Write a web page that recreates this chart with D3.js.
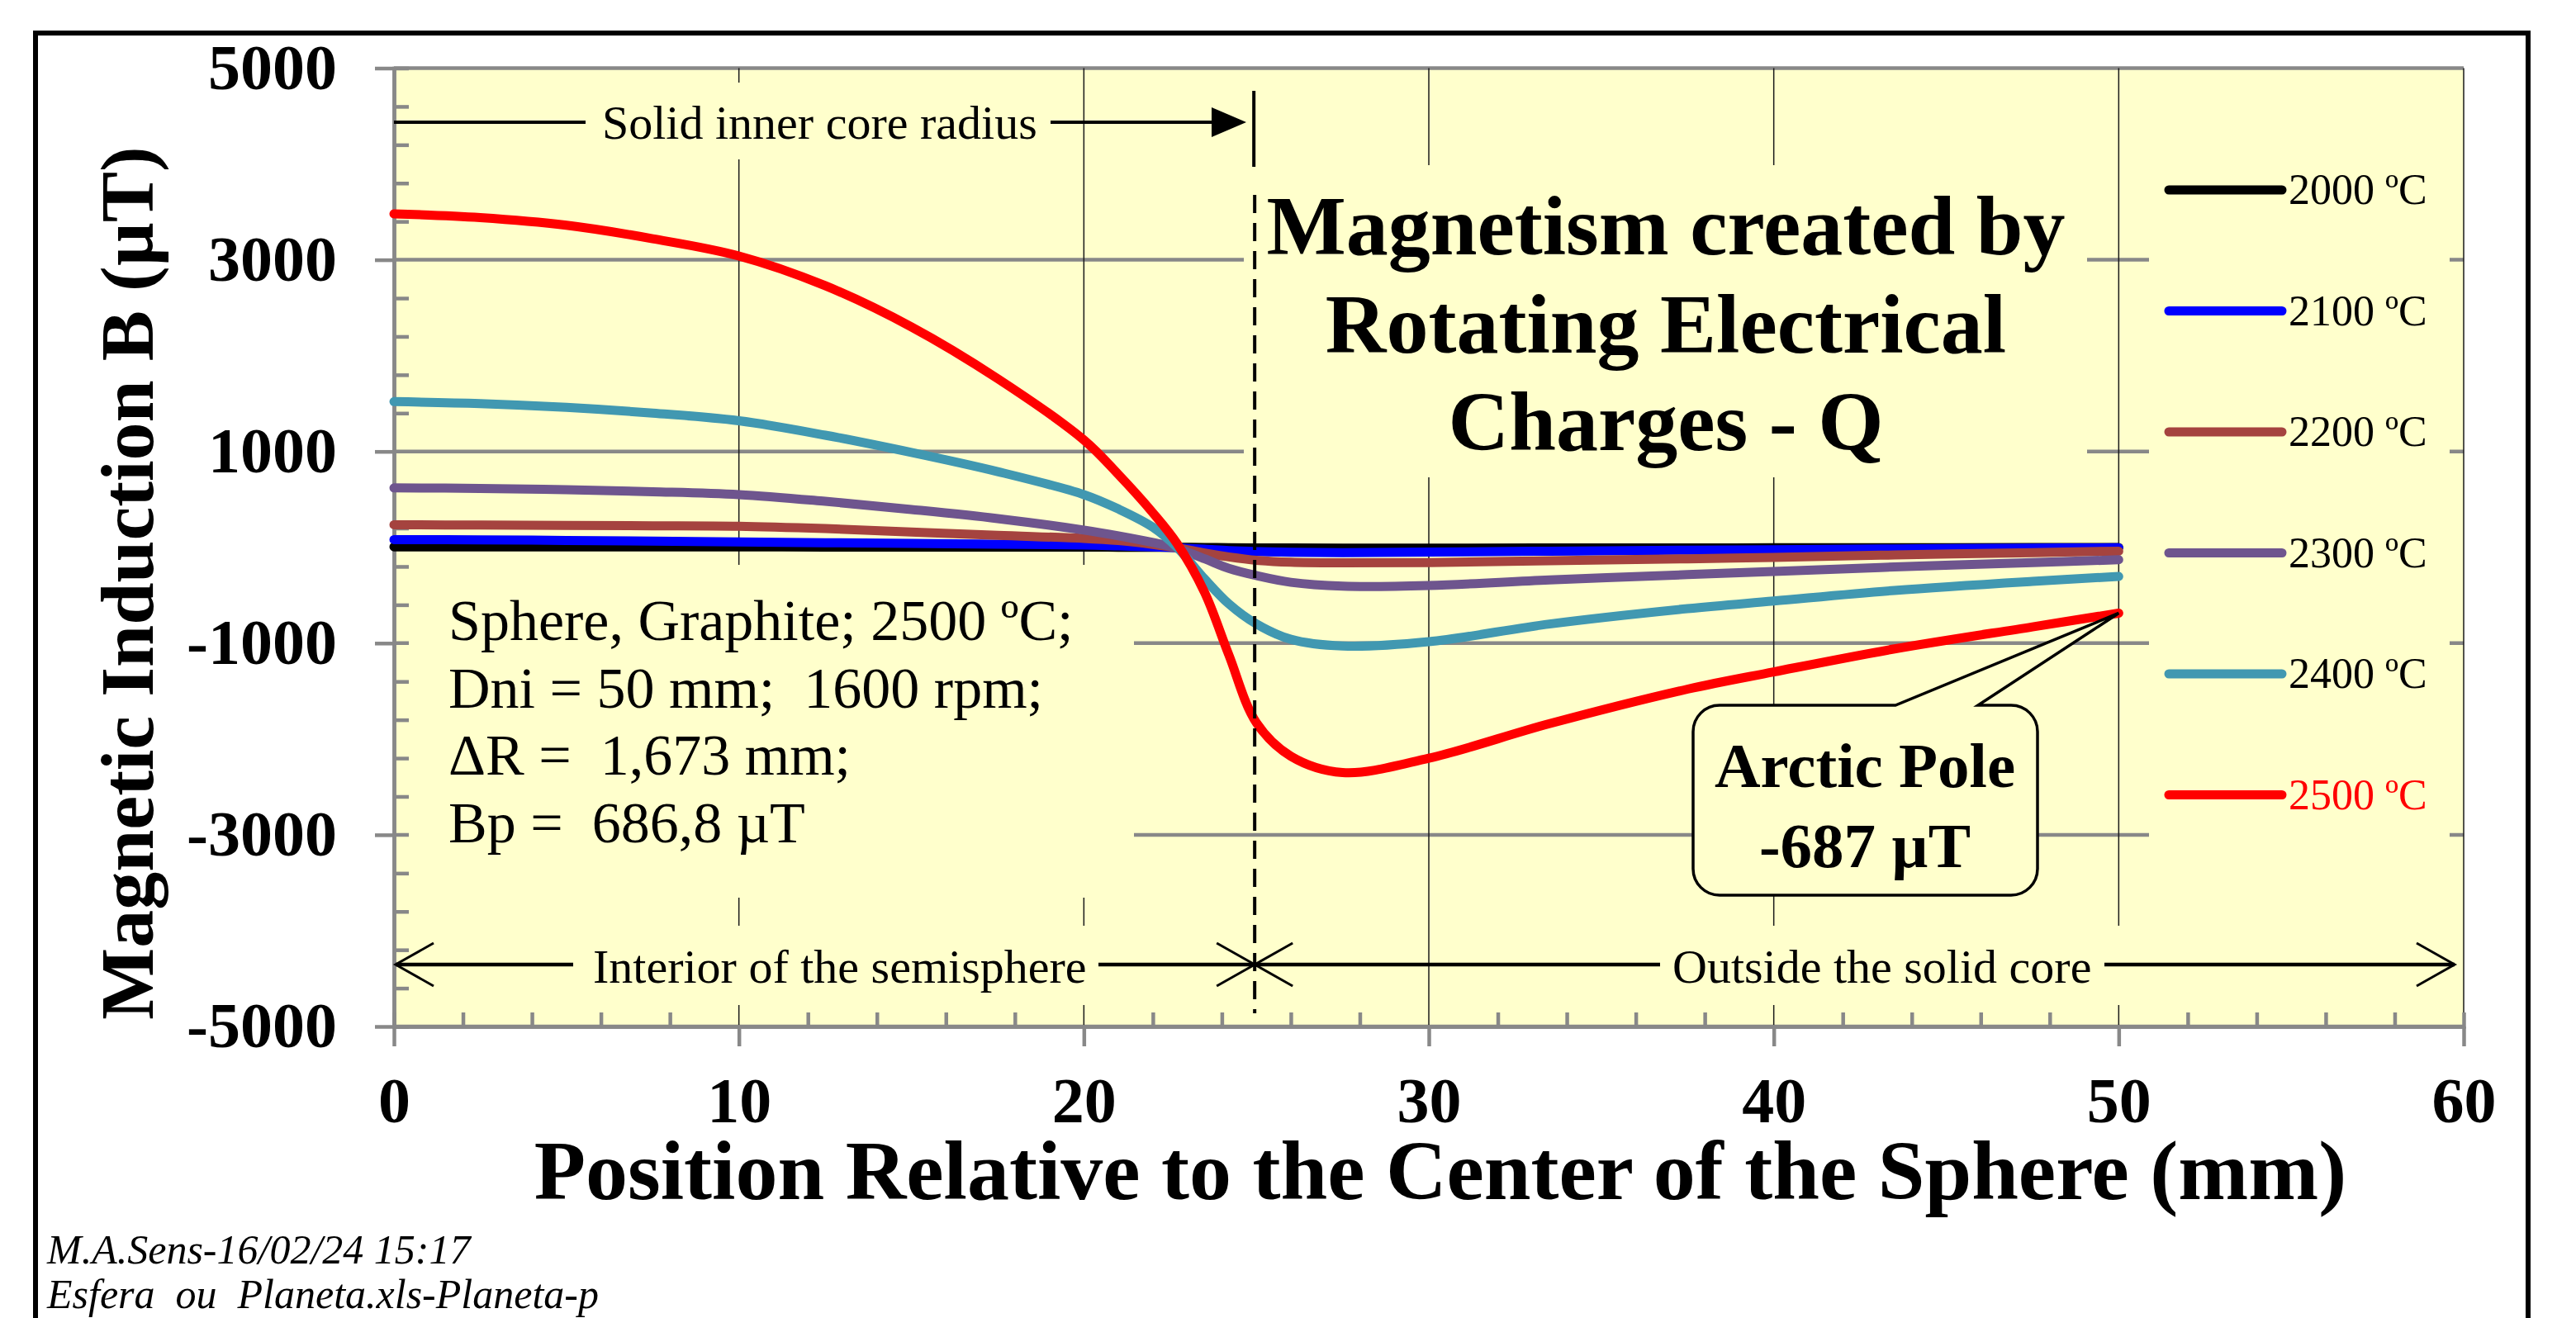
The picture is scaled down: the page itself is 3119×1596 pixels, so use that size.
<!DOCTYPE html>
<html lang="en">
<head>
  <meta charset="UTF-8">
  <title>Magnetism created by Rotating Electrical Charges</title>
  <script src="https://d3js.org/d3.v7.min.js"></script>
  <style>
    body { margin: 0; background: #fff; }
    text { font-family: "Times New Roman", "Liberation Serif", serif; }
  </style>
</head>
<body>
<script>
  // positions along the radius (mm)
  const xs = [0, 2.5, 5, 7.5, 10, 12.5, 15, 17.5, 20, 21, 22, 22.7, 23.5, 24.2, 25, 26, 27.5, 30, 33.5, 37.5, 40, 43.5, 47.5, 50];

  // magnetic induction B (uT) for each temperature
  const b2000 = [5, 5, 5, 4, 4, 3, 3, 2, 2, 1, 1, 0, -2, -4, -6, -7, -8, -8, -7, -6, -5, -4, -3, -2];
  const b2100 = [80, 78, 72, 65, 55, 48, 40, 32, 24, 15, 5, -5, -20, -35, -45, -52, -55, -50, -40, -30, -25, -17, -8, -5];
  const b2200 = [235, 232, 228, 225, 220, 195, 160, 125, 93, 70, 30, -5, -60, -100, -135, -155, -162, -160, -140, -120, -106, -80, -55, -40];
  const b2300 = [620, 615, 600, 580, 550, 480, 395, 300, 180, 120, 50, -10, -120, -220, -295, -365, -405, -398, -340, -285, -251, -205, -160, -130];
  const b2400 = [1520, 1500, 1460, 1400, 1320, 1170, 990, 790, 550, 400, 210, 0, -330, -590, -800, -960, -1030, -985, -800, -640, -560, -450, -355, -304];
  const b2500 = [3480, 3440, 3360, 3220, 3040, 2730, 2300, 1760, 1120, 760, 360, 40, -470, -1120, -1830, -2180, -2350, -2200, -1840, -1480, -1300, -1060, -830, -687];

  const seriesNames = ["2000 ºC", "2100 ºC", "2200 ºC", "2300 ºC", "2400 ºC", "2500 ºC"];
  const seriesColors = ["#000000", "#0000ff", "#a5433f", "#6e558e", "#4198b1", "#ff0000"];
  const seriesValues = [b2000, b2100, b2200, b2300, b2400, b2500];

  const xMajor = [0, 10, 20, 30, 40, 50, 60];
  const yMajor = [-5000, -3000, -1000, 1000, 3000, 5000];

  const poleX = 50, poleB = -687;

  const width = 3119, height = 1596;
  const bg = "#ffffcc", gridGray = "#888888";

  const svg = d3.select("body").append("svg")
    .attr("width", width)
    .attr("height", height);

  const x = d3.scaleLinear().domain([0, 60]).range([477, 2983]);
  const y = d3.scaleLinear().domain([-5000, 5000]).range([1243, 82.5]);

  // outer frame (bottom edge runs off the picture)
  svg.append("rect")
    .attr("x", 43).attr("y", 40)
    .attr("width", 3061 - 43).attr("height", 1700)
    .attr("fill", "#fff")
    .attr("stroke", "#000")
    .attr("stroke-width", 6);

  // plot background
  svg.append("rect")
    .attr("x", x(0)).attr("y", y(5000))
    .attr("width", x(60) - x(0)).attr("height", y(-5000) - y(5000))
    .attr("fill", bg);

  // gridlines
  svg.append("g").selectAll("line")
    .data(yMajor)
    .join("line")
    .attr("x1", x(0)).attr("x2", x(60))
    .attr("y1", d => y(d)).attr("y2", d => y(d))
    .attr("stroke", gridGray)
    .attr("stroke-width", 4.5);

  svg.append("g").selectAll("line")
    .data(xMajor.slice(1))
    .join("line")
    .attr("x1", d => x(d)).attr("x2", d => x(d))
    .attr("y1", y(5000)).attr("y2", y(-5000))
    .attr("stroke", "#1a1a1a")
    .attr("stroke-width", 1.5);

  // opaque text boxes that hide the grid
  const boxes = [
    [712, 100, 1268, 193],
    [1506, 200, 2527, 578],
    [495, 684, 1373, 1087],
    [700, 1121, 1330, 1217],
    [2005, 1121, 2580, 1217],
    [2602, 175, 2966, 1025]
  ];
  svg.append("g").selectAll("rect")
    .data(boxes)
    .join("rect")
    .attr("x", d => d[0]).attr("y", d => d[1])
    .attr("width", d => d[2] - d[0]).attr("height", d => d[3] - d[1])
    .attr("fill", bg);

  // axes
  function styleAxis(g) {
    g.selectAll("path.domain").attr("stroke", gridGray).attr("stroke-width", 4.5);
    g.selectAll(".tick line").attr("stroke", gridGray).attr("stroke-width", 4.5);
  }

  const yMinor = d3.range(-5000, 5001, 400).filter(v => !yMajor.includes(v));
  const xMinor = d3.range(0, 61, 2).filter(v => !xMajor.includes(v));

  svg.append("g")
    .attr("transform", `translate(${x(0)},0)`)
    .call(d3.axisRight(y).tickValues(yMinor).tickSize(18).tickFormat(""))
    .call(styleAxis);

  svg.append("g")
    .attr("transform", `translate(0,${y(-5000)})`)
    .call(d3.axisTop(x).tickValues(xMinor).tickSize(17).tickFormat(""))
    .call(styleAxis);

  const yAxisG = svg.append("g")
    .attr("transform", `translate(${x(0)},0)`)
    .call(d3.axisLeft(y).tickValues(yMajor).tickSizeInner(23).tickSizeOuter(0)
      .tickPadding(46).tickFormat(d => String(d)))
    .call(styleAxis);
  yAxisG.selectAll("text")
    .attr("fill", "#000")
    .attr("font-family", "Times New Roman, Liberation Serif, serif")
    .attr("font-size", 78)
    .attr("font-weight", "bold");

  const xAxisG = svg.append("g")
    .attr("transform", `translate(0,${y(-5000)})`)
    .call(d3.axisBottom(x).tickValues(xMajor).tickSizeInner(24).tickSizeOuter(0)
      .tickFormat(d => String(d)))
    .call(styleAxis);
  xAxisG.selectAll("text")
    .attr("fill", "#000")
    .attr("dy", null)
    .attr("y", 116)
    .attr("font-family", "Times New Roman, Liberation Serif, serif")
    .attr("font-size", 78)
    .attr("font-weight", "bold");

  // axis titles
  svg.append("text")
    .attr("transform", "translate(185,706) rotate(-90)")
    .attr("text-anchor", "middle")
    .attr("font-size", 92)
    .attr("font-weight", "bold")
    .text("Magnetic Induction B (µT)");

  svg.append("text")
    .attr("x", 1744).attr("y", 1452)
    .attr("text-anchor", "middle")
    .attr("font-size", 102)
    .attr("font-weight", "bold")
    .text("Position Relative to the Center of the Sphere (mm)");

  // curves
  const line = d3.line()
    .x(d => x(d[0]))
    .y(d => y(d[1]))
    .curve(d3.curveCatmullRom.alpha(0.5));

  svg.append("g").selectAll("path")
    .data(seriesValues)
    .join("path")
    .attr("d", vals => line(xs.map((v, i) => [v, vals[i]])))
    .attr("fill", "none")
    .attr("stroke", (_, i) => seriesColors[i])
    .attr("stroke-width", 11)
    .attr("stroke-linecap", "round")
    .attr("stroke-linejoin", "round");

  // legend
  const legend = svg.append("g").selectAll("g")
    .data(seriesNames)
    .join("g")
    .attr("transform", (_, i) => `translate(0,${230 + i * 146.5})`);
  legend.append("line")
    .attr("x1", 2626).attr("x2", 2763)
    .attr("stroke", (_, i) => seriesColors[i])
    .attr("stroke-width", 11)
    .attr("stroke-linecap", "round");
  legend.append("text")
    .attr("x", 2771).attr("y", 17)
    .attr("font-size", 52)
    .attr("fill", (_, i) => i === 5 ? "#ff0000" : "#000")
    .text(d => d);

  // annotations
  const ann = svg.append("g").attr("stroke", "#000").attr("fill", "none");

  // solid inner core radius
  ann.append("line").attr("x1", x(0)).attr("x2", 709).attr("y1", 148).attr("y2", 148).attr("stroke-width", 4);
  ann.append("line").attr("x1", 1272).attr("x2", 1470).attr("y1", 148).attr("y2", 148).attr("stroke-width", 4);
  ann.append("path").attr("d", "M1467,130 L1509,148 L1467,166 Z").attr("fill", "#000").attr("stroke", "none");
  ann.append("line").attr("x1", x(25) - 3).attr("x2", x(25) - 3).attr("y1", 110).attr("y2", 202).attr("stroke-width", 4);

  // dashed radius line
  ann.append("line")
    .attr("x1", x(25) - 2).attr("x2", x(25) - 2)
    .attr("y1", 236).attr("y2", 1227)
    .attr("stroke-width", 4)
    .attr("stroke-dasharray", "22,12");

  // bottom arrows
  const ay = 1168;
  function openHead(tx, dir) {
    ann.append("path")
      .attr("d", `M${tx - dir * 46},${ay - 26} L${tx},${ay} L${tx - dir * 46},${ay + 26}`)
      .attr("stroke-width", 3);
  }
  ann.append("line").attr("x1", x(0) + 2).attr("x2", 694).attr("y1", ay).attr("y2", ay).attr("stroke-width", 4.5);
  openHead(x(0) + 2, -1);
  ann.append("line").attr("x1", 1330).attr("x2", x(25) - 2).attr("y1", ay).attr("y2", ay).attr("stroke-width", 4.5);
  openHead(x(25) - 2, 1);
  ann.append("line").attr("x1", x(25) - 2).attr("x2", 2010).attr("y1", ay).attr("y2", ay).attr("stroke-width", 4.5);
  openHead(x(25) - 2, -1);
  ann.append("line").attr("x1", 2548).attr("x2", 2972).attr("y1", ay).attr("y2", ay).attr("stroke-width", 4.5);
  openHead(2972, 1);

  svg.append("text").attr("x", 729).attr("y", 168).attr("font-size", 58).text("Solid inner core radius");
  svg.append("text").attr("x", 718).attr("y", 1190).attr("font-size", 58).text("Interior of the semisphere");
  svg.append("text").attr("x", 2025).attr("y", 1190).attr("font-size", 58).text("Outside the solid core");

  // title
  const titleLines = ["Magnetism created by", "Rotating Electrical", "Charges - Q"];
  svg.append("g").selectAll("text")
    .data(titleLines)
    .join("text")
    .attr("x", 2017)
    .attr("y", (_, i) => 308 + i * 118.5)
    .attr("text-anchor", "middle")
    .attr("font-size", 102)
    .attr("font-weight", "bold")
    .text(d => d);

  // info block
  const infoLines = ["Sphere, Graphite; 2500 ºC;", "Dni = 50 mm;  1600 rpm;", "ΔR =  1,673 mm;", "Bp =  686,8 µT"];
  svg.append("g").selectAll("text")
    .data(infoLines)
    .join("text")
    .attr("x", 543)
    .attr("y", (_, i) => 775 + i * 81.7)
    .attr("font-size", 70)
    .style("white-space", "pre")
    .text(d => d);

  // Arctic pole callout
  const tipX = x(poleX), tipY = y(poleB);
  const bx0 = 2050, bx1 = 2467, by0 = 854, by1 = 1084, r = 32;
  const p = d3.path();
  p.moveTo(bx0 + r, by0);
  p.lineTo(2295, by0);
  p.lineTo(tipX, tipY);
  p.lineTo(2395, by0);
  p.lineTo(bx1 - r, by0);
  p.arcTo(bx1, by0, bx1, by0 + r, r);
  p.lineTo(bx1, by1 - r);
  p.arcTo(bx1, by1, bx1 - r, by1, r);
  p.lineTo(bx0 + r, by1);
  p.arcTo(bx0, by1, bx0, by1 - r, r);
  p.lineTo(bx0, by0 + r);
  p.arcTo(bx0, by0, bx0 + r, by0, r);
  p.closePath();
  svg.append("path")
    .attr("d", p.toString())
    .attr("fill", bg)
    .attr("stroke", "#000")
    .attr("stroke-width", 3.5)
    .attr("stroke-linejoin", "miter");

  svg.append("text").attr("x", 2258).attr("y", 953)
    .attr("text-anchor", "middle").attr("font-size", 77).attr("font-weight", "bold")
    .text("Arctic Pole");
  svg.append("text").attr("x", 2258).attr("y", 1050)
    .attr("text-anchor", "middle").attr("font-size", 77).attr("font-weight", "bold")
    .text(`${poleB} µT`);

  // file stamp
  svg.append("text").attr("x", 57).attr("y", 1530)
    .attr("font-size", 50).attr("font-style", "italic")
    .text("M.A.Sens-16/02/24 15:17");
  svg.append("text").attr("x", 57).attr("y", 1584)
    .attr("font-size", 50).attr("font-style", "italic")
    .style("white-space", "pre")
    .text("Esfera  ou  Planeta.xls-Planeta-p");
</script>
</body>
</html>
